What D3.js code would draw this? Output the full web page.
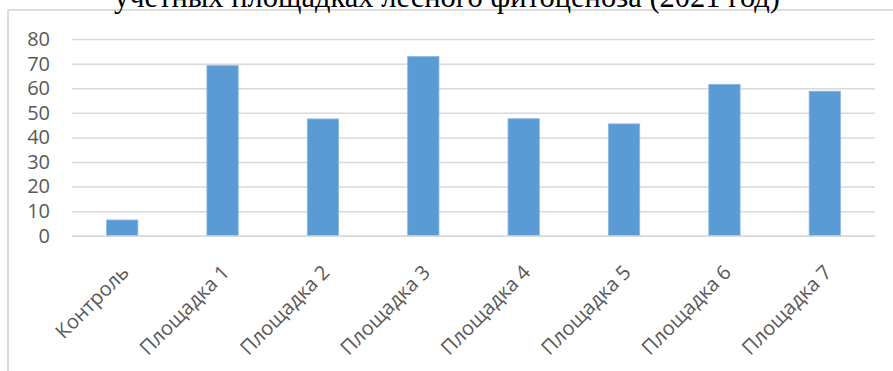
<!DOCTYPE html>
<html>
<head>
<meta charset="utf-8">
<script src="https://cdn.jsdelivr.net/npm/d3@7"></script>
<style>
  html, body { margin: 0; padding: 0; background: #fff; }
  svg { display: block; }
</style>
</head>
<body>
<svg id="chart" width="893" height="371"></svg>
<script>
// Площадки и значения по каждой учётной площадке
const categories = ["Контроль", "Площадка 1", "Площадка 2", "Площадка 3", "Площадка 4", "Площадка 5", "Площадка 6", "Площадка 7"];
const values = [6.4, 69.2, 47.5, 72.9, 47.6, 45.5, 61.6, 58.8];
const yTicks = [0, 10, 20, 30, 40, 50, 60, 70, 80];
const titleText = "учетных площадках лесного фитоценоза (2021 год)";

const W = 893, H = 371;
const svg = d3.select("#chart");

// Рамка области диаграммы
svg.append("rect")
  .attr("x", 8).attr("y", 10)
  .attr("width", W + 20).attr("height", H + 20)
  .attr("fill", "#fff")
  .attr("stroke", "#d9d9d9")
  .attr("stroke-width", 1.8);

// Заголовок (верхняя часть уходит за край)
svg.append("text")
  .attr("x", 447).attr("y", 7)
  .attr("text-anchor", "middle")
  .attr("font-family", "'Liberation Serif', 'Times New Roman', serif")
  .attr("font-size", 30.5)
  .attr("fill", "#000")
  .text(titleText);

const plot = { left: 72, right: 875, top: 39.1, bottom: 235.7 };

const x = d3.scaleBand()
  .domain(categories)
  .range([plot.left, plot.right])
  .paddingInner(0.688)
  .paddingOuter(0.344);

const y = d3.scaleLinear()
  .domain([0, 80])
  .range([plot.bottom, plot.top]);

const labelFont = "'Open Sans', 'Noto Sans', sans-serif";

// Горизонтальная сетка и подписи значений
const yAxis = d3.axisLeft(y)
  .tickValues(yTicks)
  .tickSize(-(plot.right - plot.left))
  .tickPadding(22)
  .tickFormat(d3.format("d"));

const gy = svg.append("g")
  .attr("transform", `translate(${plot.left},0)`)
  .call(yAxis);
gy.select(".domain").remove();
gy.selectAll(".tick line")
  .attr("stroke", "#d9d9d9")
  .attr("stroke-width", 1.5);
gy.selectAll(".tick text")
  .attr("font-family", labelFont)
  .attr("font-size", 20)
  .attr("fill", "#595959");

// Столбцы
svg.append("g")
  .selectAll("rect")
  .data(values)
  .join("rect")
  .attr("x", (d, i) => x(categories[i]))
  .attr("y", d => y(d))
  .attr("width", x.bandwidth())
  .attr("height", d => y(0) - y(d))
  .attr("fill", "#5b9bd5")
  .attr("stroke", "#8ab8e3")
  .attr("stroke-width", 0.8);

// Ось категорий с наклонными подписями
const xAxis = d3.axisBottom(x).tickSize(0).tickPadding(0);
const gx = svg.append("g")
  .attr("transform", `translate(0,${plot.bottom})`)
  .call(xAxis);
gx.select(".domain")
  .attr("stroke", "#d9d9d9")
  .attr("stroke-width", 1.5);
gx.selectAll(".tick text")
  .attr("font-family", labelFont)
  .attr("font-size", 20)
  .attr("fill", "#595959")
  .attr("text-anchor", "end")
  .attr("dy", "0.35em")
  .attr("transform", "translate(3,33) rotate(-45)");
</script>
</body>
</html>
